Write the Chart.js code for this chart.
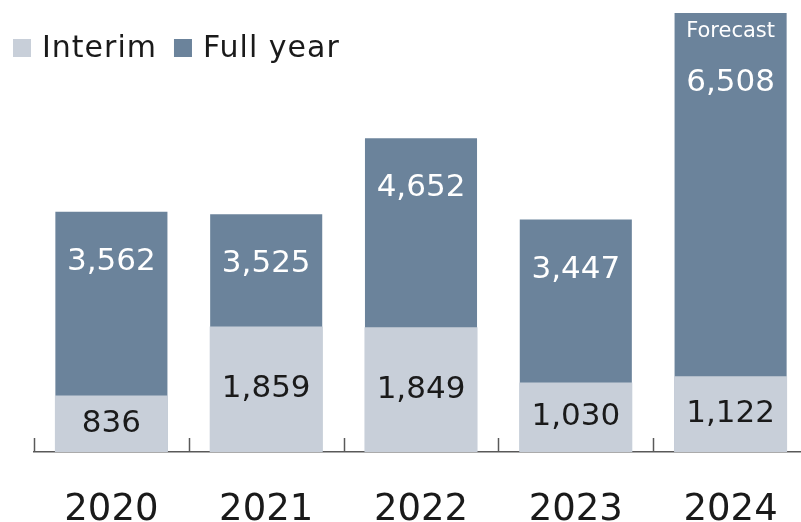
<!doctype html>
<html lang="en">
  <head>
    <meta charset="utf-8">
    <title>Interim and full year</title>
    <style>
      * {
        margin: 0;
        padding: 0;
      }
      body {
        width: 801px;
        height: 522px;
        overflow: hidden;
        background: white;
      }
      .chartBox {
        width: 809px;
        height: 522px;
      }
    </style>
  </head>
  <body>
    <div class="chartBox">
      <canvas id="myChart"></canvas>
    </div>

    <script src="https://cdn.jsdelivr.net/npm/chart.js@4.4.0/dist/chart.umd.min.js"></script>

    <script>
    // data block
    const years = ['2020', '2021', '2022', '2023', '2024'];
    const interim = [836, 1859, 1849, 1030, 1122];
    const fullYear = [3562, 3525, 4652, 3447, 6508];
    const notes = ['', '', '', '', 'Forecast'];

    const FONT = '"DejaVu Sans", Verdana, sans-serif';
    const lightColor = '#c8cfd9';
    const darkColor = '#6b839b';

    const data = {
      labels: years,
      datasets: [{
        label: 'Interim',
        data: interim,
        backgroundColor: lightColor,
        borderWidth: 0,
        barPercentage: 0.73,
        textColor: '#1a1a1a'
      }, {
        label: 'Full year',
        data: fullYear,
        backgroundColor: darkColor,
        borderWidth: 0,
        barPercentage: 0.724,
        textColor: '#ffffff'
      }]
    };

    // legend drawn over the chart area (bars reach up into it)
    const topLegend = {
      id: 'topLegend',
      afterDraw(chart) {
        const { ctx } = chart;
        ctx.save();
        ctx.font = '30px ' + FONT;
        ctx.letterSpacing = '1px';
        ctx.textBaseline = 'middle';
        let x = 13;
        chart.data.datasets.forEach(ds => {
          ctx.fillStyle = ds.backgroundColor;
          ctx.fillRect(x, 39, 18, 18);
          x += 29;
          ctx.fillStyle = '#1a1a1a';
          ctx.fillText(ds.label, x, 49);
          x += ctx.measureText(ds.label).width + 17;
        });
        ctx.restore();
      }
    };

    // value labels inside the bars
    const barLabels = {
      id: 'barLabels',
      afterDatasetsDraw(chart) {
        const { ctx } = chart;
        ctx.save();
        ctx.textAlign = 'center';
        ctx.textBaseline = 'middle';
        chart.data.datasets.forEach((ds, di) => {
          const meta = chart.getDatasetMeta(di);
          meta.data.forEach((bar, i) => {
            const value = ds.data[i];
            const text = value.toLocaleString('en-US');
            ctx.fillStyle = ds.textColor;
            if (di === 0) {
              ctx.font = '31px ' + FONT;
              ctx.fillText(text, bar.x, (bar.y + bar.base) / 2);
            } else if (notes[i]) {
              ctx.font = '21px ' + FONT;
              ctx.fillText(notes[i], bar.x, bar.y + 19);
              ctx.font = '31px ' + FONT;
              ctx.fillText(text, bar.x, bar.y + 70);
            } else {
              ctx.font = '31px ' + FONT;
              ctx.fillText(text, bar.x, bar.y + 50);
            }
          });
        });
        ctx.restore();
      }
    };

    // small upward tick marks on category boundaries
    const boundaryTicks = {
      id: 'boundaryTicks',
      afterDraw(chart) {
        const { ctx, chartArea: { bottom, width }, scales: { x } } = chart;
        const segment = width / years.length;
        ctx.save();
        ctx.strokeStyle = '#595959';
        ctx.lineWidth = 1.5;
        for (let i = 0; i <= years.length; i++) {
          const px = Math.round(x.getPixelForValue(i) - segment / 2) + 0.5;
          ctx.beginPath();
          ctx.moveTo(px, bottom - 14);
          ctx.lineTo(px, bottom);
          ctx.stroke();
        }
        ctx.restore();
      }
    };

    // config block
    const config = {
      type: 'bar',
      data: data,
      options: {
        responsive: true,
        maintainAspectRatio: false,
        animation: false,
        layout: {
          padding: { left: 34, right: 1, top: 0, bottom: 0 }
        },
        datasets: {
          bar: {
            categoryPercentage: 1
          }
        },
        plugins: {
          legend: { display: false },
          tooltip: { enabled: false }
        },
        scales: {
          x: {
            stacked: true,
            grid: { display: false },
            border: { display: true, color: '#595959', width: 1.5 },
            ticks: {
              color: '#1a1a1a',
              padding: 28,
              maxRotation: 0,
              minRotation: 0,
              font: { family: FONT, size: 37 }
            },
            afterFit(scale) {
              scale.height = 70;
              scale.paddingLeft = 0;
              scale.paddingRight = 0;
            }
          },
          y: {
            stacked: false,
            display: false,
            min: 0,
            max: 6700
          }
        }
      },
      plugins: [topLegend, barLabels, boundaryTicks]
    };

    // init render block
    const myChart = new Chart(
      document.getElementById('myChart'),
      config
    );
    </script>
  </body>
</html>
